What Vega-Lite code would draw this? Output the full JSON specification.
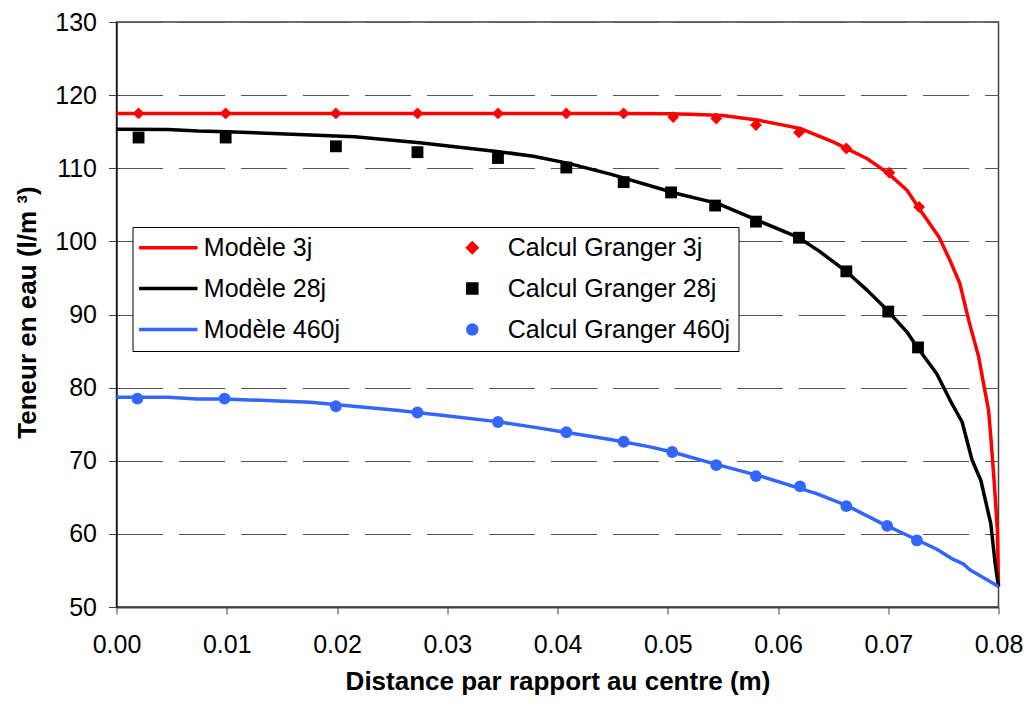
{
  "$schema": "https://vega.github.io/schema/vega-lite/v6.json",
  "width": 882,
  "height": 585,
  "autosize": "none",
  "padding": {"left": 116.5, "top": 22, "right": 30.5, "bottom": 98},
  "background": "white",
  "config": {
    "font": "Liberation Sans",
    "view": {"stroke": "#404040", "strokeWidth": 1.5},
    "axis": {"labelFont": "Liberation Sans", "titleFont": "Liberation Sans", "labelColor": "black", "titleColor": "black"}
  },
  "datasets": {
    "rows": [
      {"series": "Modèle 3j", "kind": "model", "x": 0, "y": 117.5},
      {"series": "Modèle 3j", "kind": "model", "x": 0.01, "y": 117.5},
      {"series": "Modèle 3j", "kind": "model", "x": 0.02, "y": 117.5},
      {"series": "Modèle 3j", "kind": "model", "x": 0.03, "y": 117.5},
      {"series": "Modèle 3j", "kind": "model", "x": 0.04, "y": 117.5},
      {"series": "Modèle 3j", "kind": "model", "x": 0.045, "y": 117.5},
      {"series": "Modèle 3j", "kind": "model", "x": 0.05, "y": 117.45},
      {"series": "Modèle 3j", "kind": "model", "x": 0.052, "y": 117.4},
      {"series": "Modèle 3j", "kind": "model", "x": 0.055, "y": 117.2},
      {"series": "Modèle 3j", "kind": "model", "x": 0.0581, "y": 116.6},
      {"series": "Modèle 3j", "kind": "model", "x": 0.0605, "y": 115.9},
      {"series": "Modèle 3j", "kind": "model", "x": 0.0621, "y": 115.4},
      {"series": "Modèle 3j", "kind": "model", "x": 0.065, "y": 113.6},
      {"series": "Modèle 3j", "kind": "model", "x": 0.0681, "y": 111.3},
      {"series": "Modèle 3j", "kind": "model", "x": 0.07, "y": 109.3},
      {"series": "Modèle 3j", "kind": "model", "x": 0.0717, "y": 107.0},
      {"series": "Modèle 3j", "kind": "model", "x": 0.0729, "y": 104.3},
      {"series": "Modèle 3j", "kind": "model", "x": 0.0746, "y": 100.6},
      {"series": "Modèle 3j", "kind": "model", "x": 0.0756, "y": 97.4},
      {"series": "Modèle 3j", "kind": "model", "x": 0.0765, "y": 94.2},
      {"series": "Modèle 3j", "kind": "model", "x": 0.0773, "y": 89.2},
      {"series": "Modèle 3j", "kind": "model", "x": 0.0782, "y": 84.2},
      {"series": "Modèle 3j", "kind": "model", "x": 0.0787, "y": 80.1},
      {"series": "Modèle 3j", "kind": "model", "x": 0.0791, "y": 76.9},
      {"series": "Modèle 3j", "kind": "model", "x": 0.0793, "y": 73.3},
      {"series": "Modèle 3j", "kind": "model", "x": 0.0796, "y": 67.3},
      {"series": "Modèle 3j", "kind": "model", "x": 0.0799, "y": 60.5},
      {"series": "Modèle 3j", "kind": "model", "x": 0.08, "y": 52.8},
      {"series": "Modèle 28j", "kind": "model", "x": 0, "y": 115.35},
      {"series": "Modèle 28j", "kind": "model", "x": 0.0047, "y": 115.3},
      {"series": "Modèle 28j", "kind": "model", "x": 0.0074, "y": 115.1},
      {"series": "Modèle 28j", "kind": "model", "x": 0.01, "y": 115.0},
      {"series": "Modèle 28j", "kind": "model", "x": 0.0216, "y": 114.3},
      {"series": "Modèle 28j", "kind": "model", "x": 0.0275, "y": 113.5},
      {"series": "Modèle 28j", "kind": "model", "x": 0.0345, "y": 112.3},
      {"series": "Modèle 28j", "kind": "model", "x": 0.0378, "y": 111.65},
      {"series": "Modèle 28j", "kind": "model", "x": 0.0409, "y": 110.7},
      {"series": "Modèle 28j", "kind": "model", "x": 0.0448, "y": 109.2},
      {"series": "Modèle 28j", "kind": "model", "x": 0.0508, "y": 106.55},
      {"series": "Modèle 28j", "kind": "model", "x": 0.0545, "y": 105.2},
      {"series": "Modèle 28j", "kind": "model", "x": 0.0581, "y": 102.9},
      {"series": "Modèle 28j", "kind": "model", "x": 0.0619, "y": 100.5},
      {"series": "Modèle 28j", "kind": "model", "x": 0.0638, "y": 98.6},
      {"series": "Modèle 28j", "kind": "model", "x": 0.0663, "y": 95.75},
      {"series": "Modèle 28j", "kind": "model", "x": 0.0681, "y": 93.3},
      {"series": "Modèle 28j", "kind": "model", "x": 0.0699, "y": 90.6},
      {"series": "Modèle 28j", "kind": "model", "x": 0.0717, "y": 87.6},
      {"series": "Modèle 28j", "kind": "model", "x": 0.0726, "y": 85.6},
      {"series": "Modèle 28j", "kind": "model", "x": 0.0744, "y": 81.9},
      {"series": "Modèle 28j", "kind": "model", "x": 0.0756, "y": 78.3},
      {"series": "Modèle 28j", "kind": "model", "x": 0.0767, "y": 75.3},
      {"series": "Modèle 28j", "kind": "model", "x": 0.0776, "y": 70.1},
      {"series": "Modèle 28j", "kind": "model", "x": 0.0784, "y": 67.3},
      {"series": "Modèle 28j", "kind": "model", "x": 0.0793, "y": 61.4},
      {"series": "Modèle 28j", "kind": "model", "x": 0.0797, "y": 55.9},
      {"series": "Modèle 28j", "kind": "model", "x": 0.08, "y": 52.8},
      {"series": "Modèle 460j", "kind": "model", "x": 0, "y": 78.7},
      {"series": "Modèle 460j", "kind": "model", "x": 0.0047, "y": 78.7},
      {"series": "Modèle 460j", "kind": "model", "x": 0.0073, "y": 78.45},
      {"series": "Modèle 460j", "kind": "model", "x": 0.0098, "y": 78.45},
      {"series": "Modèle 460j", "kind": "model", "x": 0.0176, "y": 78.0},
      {"series": "Modèle 460j", "kind": "model", "x": 0.0254, "y": 76.9},
      {"series": "Modèle 460j", "kind": "model", "x": 0.0297, "y": 76.2},
      {"series": "Modèle 460j", "kind": "model", "x": 0.0345, "y": 75.35},
      {"series": "Modèle 460j", "kind": "model", "x": 0.0378, "y": 74.6},
      {"series": "Modèle 460j", "kind": "model", "x": 0.0407, "y": 73.9},
      {"series": "Modèle 460j", "kind": "model", "x": 0.0448, "y": 72.9},
      {"series": "Modèle 460j", "kind": "model", "x": 0.0484, "y": 71.9},
      {"series": "Modèle 460j", "kind": "model", "x": 0.0504, "y": 71.2},
      {"series": "Modèle 460j", "kind": "model", "x": 0.0544, "y": 69.5},
      {"series": "Modèle 460j", "kind": "model", "x": 0.0584, "y": 67.9},
      {"series": "Modèle 460j", "kind": "model", "x": 0.0635, "y": 65.5},
      {"series": "Modèle 460j", "kind": "model", "x": 0.0662, "y": 63.9},
      {"series": "Modèle 460j", "kind": "model", "x": 0.0696, "y": 61.3},
      {"series": "Modèle 460j", "kind": "model", "x": 0.0726, "y": 59.2},
      {"series": "Modèle 460j", "kind": "model", "x": 0.0744, "y": 57.9},
      {"series": "Modèle 460j", "kind": "model", "x": 0.0759, "y": 56.5},
      {"series": "Modèle 460j", "kind": "model", "x": 0.0768, "y": 55.9},
      {"series": "Modèle 460j", "kind": "model", "x": 0.0774, "y": 55.1},
      {"series": "Modèle 460j", "kind": "model", "x": 0.08, "y": 52.8},
      {"series": "Calcul Granger 3j", "kind": "calc", "x": 0.002, "y": 117.5},
      {"series": "Calcul Granger 3j", "kind": "calc", "x": 0.0099, "y": 117.5},
      {"series": "Calcul Granger 3j", "kind": "calc", "x": 0.0199, "y": 117.5},
      {"series": "Calcul Granger 3j", "kind": "calc", "x": 0.0273, "y": 117.5},
      {"series": "Calcul Granger 3j", "kind": "calc", "x": 0.0346, "y": 117.5},
      {"series": "Calcul Granger 3j", "kind": "calc", "x": 0.0408, "y": 117.5},
      {"series": "Calcul Granger 3j", "kind": "calc", "x": 0.046, "y": 117.5},
      {"series": "Calcul Granger 3j", "kind": "calc", "x": 0.0505, "y": 117.0},
      {"series": "Calcul Granger 3j", "kind": "calc", "x": 0.0544, "y": 116.8},
      {"series": "Calcul Granger 3j", "kind": "calc", "x": 0.058, "y": 115.9},
      {"series": "Calcul Granger 3j", "kind": "calc", "x": 0.0619, "y": 114.9},
      {"series": "Calcul Granger 3j", "kind": "calc", "x": 0.0662, "y": 112.7},
      {"series": "Calcul Granger 3j", "kind": "calc", "x": 0.0701, "y": 109.4},
      {"series": "Calcul Granger 3j", "kind": "calc", "x": 0.0728, "y": 104.7},
      {"series": "Calcul Granger 28j", "kind": "calc", "x": 0.002, "y": 114.2},
      {"series": "Calcul Granger 28j", "kind": "calc", "x": 0.0099, "y": 114.2},
      {"series": "Calcul Granger 28j", "kind": "calc", "x": 0.0199, "y": 113.0},
      {"series": "Calcul Granger 28j", "kind": "calc", "x": 0.0273, "y": 112.2},
      {"series": "Calcul Granger 28j", "kind": "calc", "x": 0.0346, "y": 111.4},
      {"series": "Calcul Granger 28j", "kind": "calc", "x": 0.0408, "y": 110.1},
      {"series": "Calcul Granger 28j", "kind": "calc", "x": 0.046, "y": 108.1},
      {"series": "Calcul Granger 28j", "kind": "calc", "x": 0.0503, "y": 106.7},
      {"series": "Calcul Granger 28j", "kind": "calc", "x": 0.0543, "y": 104.9},
      {"series": "Calcul Granger 28j", "kind": "calc", "x": 0.058, "y": 102.7},
      {"series": "Calcul Granger 28j", "kind": "calc", "x": 0.0619, "y": 100.5},
      {"series": "Calcul Granger 28j", "kind": "calc", "x": 0.0662, "y": 95.9},
      {"series": "Calcul Granger 28j", "kind": "calc", "x": 0.07, "y": 90.4},
      {"series": "Calcul Granger 28j", "kind": "calc", "x": 0.0727, "y": 85.5},
      {"series": "Calcul Granger 460j", "kind": "calc", "x": 0.0019, "y": 78.5},
      {"series": "Calcul Granger 460j", "kind": "calc", "x": 0.0098, "y": 78.5},
      {"series": "Calcul Granger 460j", "kind": "calc", "x": 0.0199, "y": 77.45},
      {"series": "Calcul Granger 460j", "kind": "calc", "x": 0.0273, "y": 76.6},
      {"series": "Calcul Granger 460j", "kind": "calc", "x": 0.0346, "y": 75.3},
      {"series": "Calcul Granger 460j", "kind": "calc", "x": 0.0408, "y": 73.9},
      {"series": "Calcul Granger 460j", "kind": "calc", "x": 0.046, "y": 72.6},
      {"series": "Calcul Granger 460j", "kind": "calc", "x": 0.0504, "y": 71.2},
      {"series": "Calcul Granger 460j", "kind": "calc", "x": 0.0544, "y": 69.4},
      {"series": "Calcul Granger 460j", "kind": "calc", "x": 0.058, "y": 67.9},
      {"series": "Calcul Granger 460j", "kind": "calc", "x": 0.062, "y": 66.5},
      {"series": "Calcul Granger 460j", "kind": "calc", "x": 0.0662, "y": 63.8},
      {"series": "Calcul Granger 460j", "kind": "calc", "x": 0.0699, "y": 61.1},
      {"series": "Calcul Granger 460j", "kind": "calc", "x": 0.0726, "y": 59.1}
    ]
  },
  "data": {"name": "rows"},
  "encoding": {
    "x": {
      "field": "x", "type": "quantitative",
      "scale": {"domain": [0, 0.08], "nice": false, "zero": false},
      "axis": {
        "values": [0, 0.01, 0.02, 0.03, 0.04, 0.05, 0.06, 0.07, 0.08],
        "format": ".2f", "grid": false, "labelFlush": false, "labelOverlap": false,
        "tickSize": 7, "tickColor": "#404040", "domainColor": "#404040", "domainWidth": 2,
        "labelPadding": 18, "labelFontSize": 25,
        "title": "Distance par rapport au centre (m)",
        "titleFontSize": 26, "titleFontWeight": "bold", "titleBaseline": "alphabetic", "titleY": 82
      }
    },
    "y": {
      "field": "y", "type": "quantitative",
      "scale": {"domain": [50, 130], "nice": false, "zero": false},
      "axis": {
        "values": [50, 60, 70, 80, 90, 100, 110, 120, 130],
        "grid": true, "gridDash": [46, 16], "gridColor": "#555555", "gridWidth": 1,
        "tickSize": 8, "tickColor": "#404040", "domainColor": "black", "domainWidth": 1.2,
        "labelPadding": 12, "labelFontSize": 25,
        "title": "Teneur en eau (l/m ³)",
        "titleFontSize": 26, "titleFontWeight": "bold", "titleAngle": -90,
        "titleBaseline": "alphabetic", "titleAlign": "center", "titleX": -81.5, "titleY": 290
      }
    }
  },
  "layer": [
    {
      "transform": [{"filter": "datum.kind === 'model'"}],
      "mark": {"type": "line", "strokeWidth": 3.5, "strokeJoin": "round"},
      "encoding": {
        "color": {
          "field": "series", "type": "nominal",
          "scale": {
            "domain": ["Modèle 3j", "Modèle 28j", "Modèle 460j", "Calcul Granger 3j", "Calcul Granger 28j", "Calcul Granger 460j"],
            "range": ["#ff0000", "#000000", "#3366ff", "#ff0000", "#000000", "#3366ff"]
          },
          "legend": {
            "title": null, "orient": "none", "legendX": 16, "legendY": 205,
            "columns": 2, "columnPadding": 104, "rowPadding": 15,
            "labelFontSize": 25, "labelOffset": 23, "labelLimit": 400, "labelColor": "black",
            "symbolSize": 81, "symbolStrokeWidth": 3.5, "symbolOffset": 15.3,
            "padding": 8, "strokeColor": "black", "fillColor": "white"
          }
        }
      }
    },
    {
      "transform": [{"filter": "datum.kind === 'calc'"}],
      "mark": {"type": "point", "filled": true, "size": 140, "opacity": 1},
      "encoding": {
        "color": {
          "field": "series", "type": "nominal",
          "scale": {
            "domain": ["Modèle 3j", "Modèle 28j", "Modèle 460j", "Calcul Granger 3j", "Calcul Granger 28j", "Calcul Granger 460j"],
            "range": ["#ff0000", "#000000", "#3366ff", "#ff0000", "#000000", "#3366ff"]
          }
        },
        "shape": {
          "field": "series", "type": "nominal",
          "scale": {
            "domain": ["Modèle 3j", "Modèle 28j", "Modèle 460j", "Calcul Granger 3j", "Calcul Granger 28j", "Calcul Granger 460j"],
            "range": ["M-6.5,0L6.5,0", "M-6.5,0L6.5,0", "M-6.5,0L6.5,0", "diamond", "square", "circle"]
          }
        }
      }
    }
  ]
}
